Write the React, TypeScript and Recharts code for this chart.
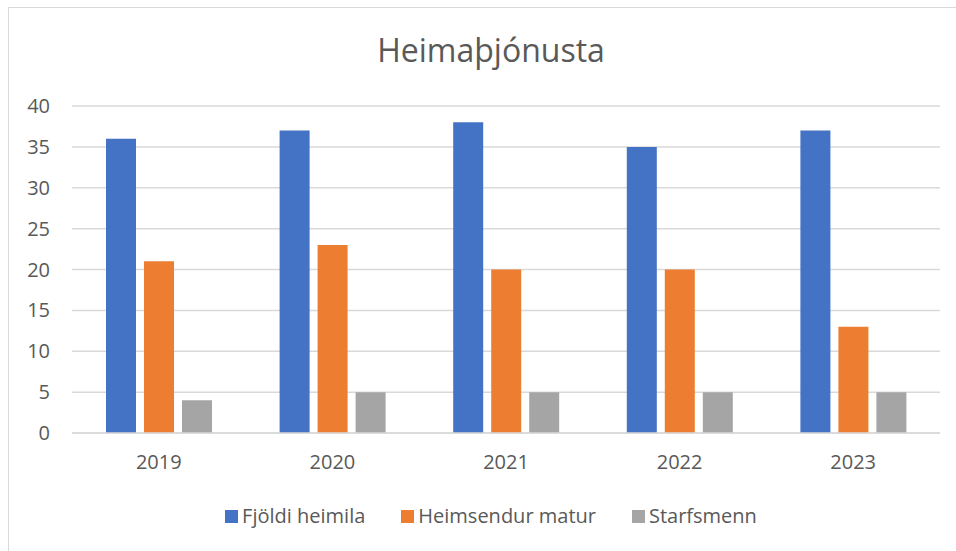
import { BarChart, Bar, XAxis, YAxis, CartesianGrid } from 'recharts';

const years = ['2019', '2020', '2021', '2022', '2023'];
const fjoldiHeimila = [36, 37, 38, 35, 37];
const heimsendurMatur = [21, 23, 20, 20, 13];
const starfsmenn = [4, 5, 5, 5, 5];
const yTicks = [0, 5, 10, 15, 20, 25, 30, 35, 40];

const series = [
  { key: 'fjoldi', name: 'Fjöldi heimila', color: '#4472C4' },
  { key: 'matur', name: 'Heimsendur matur', color: '#ED7D31' },
  { key: 'starfsmenn', name: 'Starfsmenn', color: '#A5A5A5' },
];

const data = years.map((year, i) => ({
  year,
  fjoldi: fjoldiHeimila[i],
  matur: heimsendurMatur[i],
  starfsmenn: starfsmenn[i],
}));

const font = '"Open Sans", "Noto Sans", sans-serif';
const textColor = '#595959';

export default function App() {
  return (
    <div
      style={{
        position: 'fixed',
        left: 0,
        top: 0,
        width: 956,
        height: 551,
        background: '#fff',
        overflow: 'hidden',
        fontFamily: font,
      }}
    >
      <div
        style={{
          position: 'absolute',
          left: 8,
          top: 7,
          width: 960,
          height: 560,
          border: '1.5px solid #d9d9d9',
        }}
      />
      <div
        style={{
          position: 'absolute',
          left: 0,
          width: 982,
          top: 28,
          textAlign: 'center',
          fontSize: 32,
          color: textColor,
          lineHeight: '44px',
        }}
      >
        Heimaþjónusta
      </div>
      <div style={{ position: 'absolute', left: 0, top: 0 }}>
        <BarChart
          width={956}
          height={551}
          data={data}
          margin={{ top: 106, right: 16, bottom: 88, left: 0 }}
          barSize={30}
          barGap={8}
        >
          <CartesianGrid vertical={false} stroke="#d9d9d9" strokeWidth={1.5} />
          <XAxis
            dataKey="year"
            height={30}
            tickLine={false}
            axisLine={{ stroke: '#d9d9d9', strokeWidth: 1.5 }}
            tick={{ fontSize: 20, fill: textColor, fontFamily: font }}
            tickMargin={16}
          />
          <YAxis
            width={72}
            domain={[0, 40]}
            ticks={yTicks}
            tickLine={false}
            axisLine={false}
            tick={{ fontSize: 20, fill: textColor, fontFamily: font }}
            tickMargin={16}
          />
          {series.map((s) => (
            <Bar
              key={s.key}
              dataKey={s.key}
              name={s.name}
              fill={s.color}
              isAnimationActive={false}
            />
          ))}
        </BarChart>
      </div>
      <div
        style={{
          position: 'absolute',
          left: 0,
          width: 982,
          top: 502,
          display: 'flex',
          justifyContent: 'center',
          gap: 36,
          fontSize: 20,
          lineHeight: '28px',
          color: textColor,
        }}
      >
        {series.map((s) => (
          <div key={s.key} style={{ display: 'flex', alignItems: 'center', gap: 4 }}>
            <span style={{ display: 'inline-block', width: 13, height: 13, background: s.color }} />
            <span>{s.name}</span>
          </div>
        ))}
      </div>
    </div>
  );
}
